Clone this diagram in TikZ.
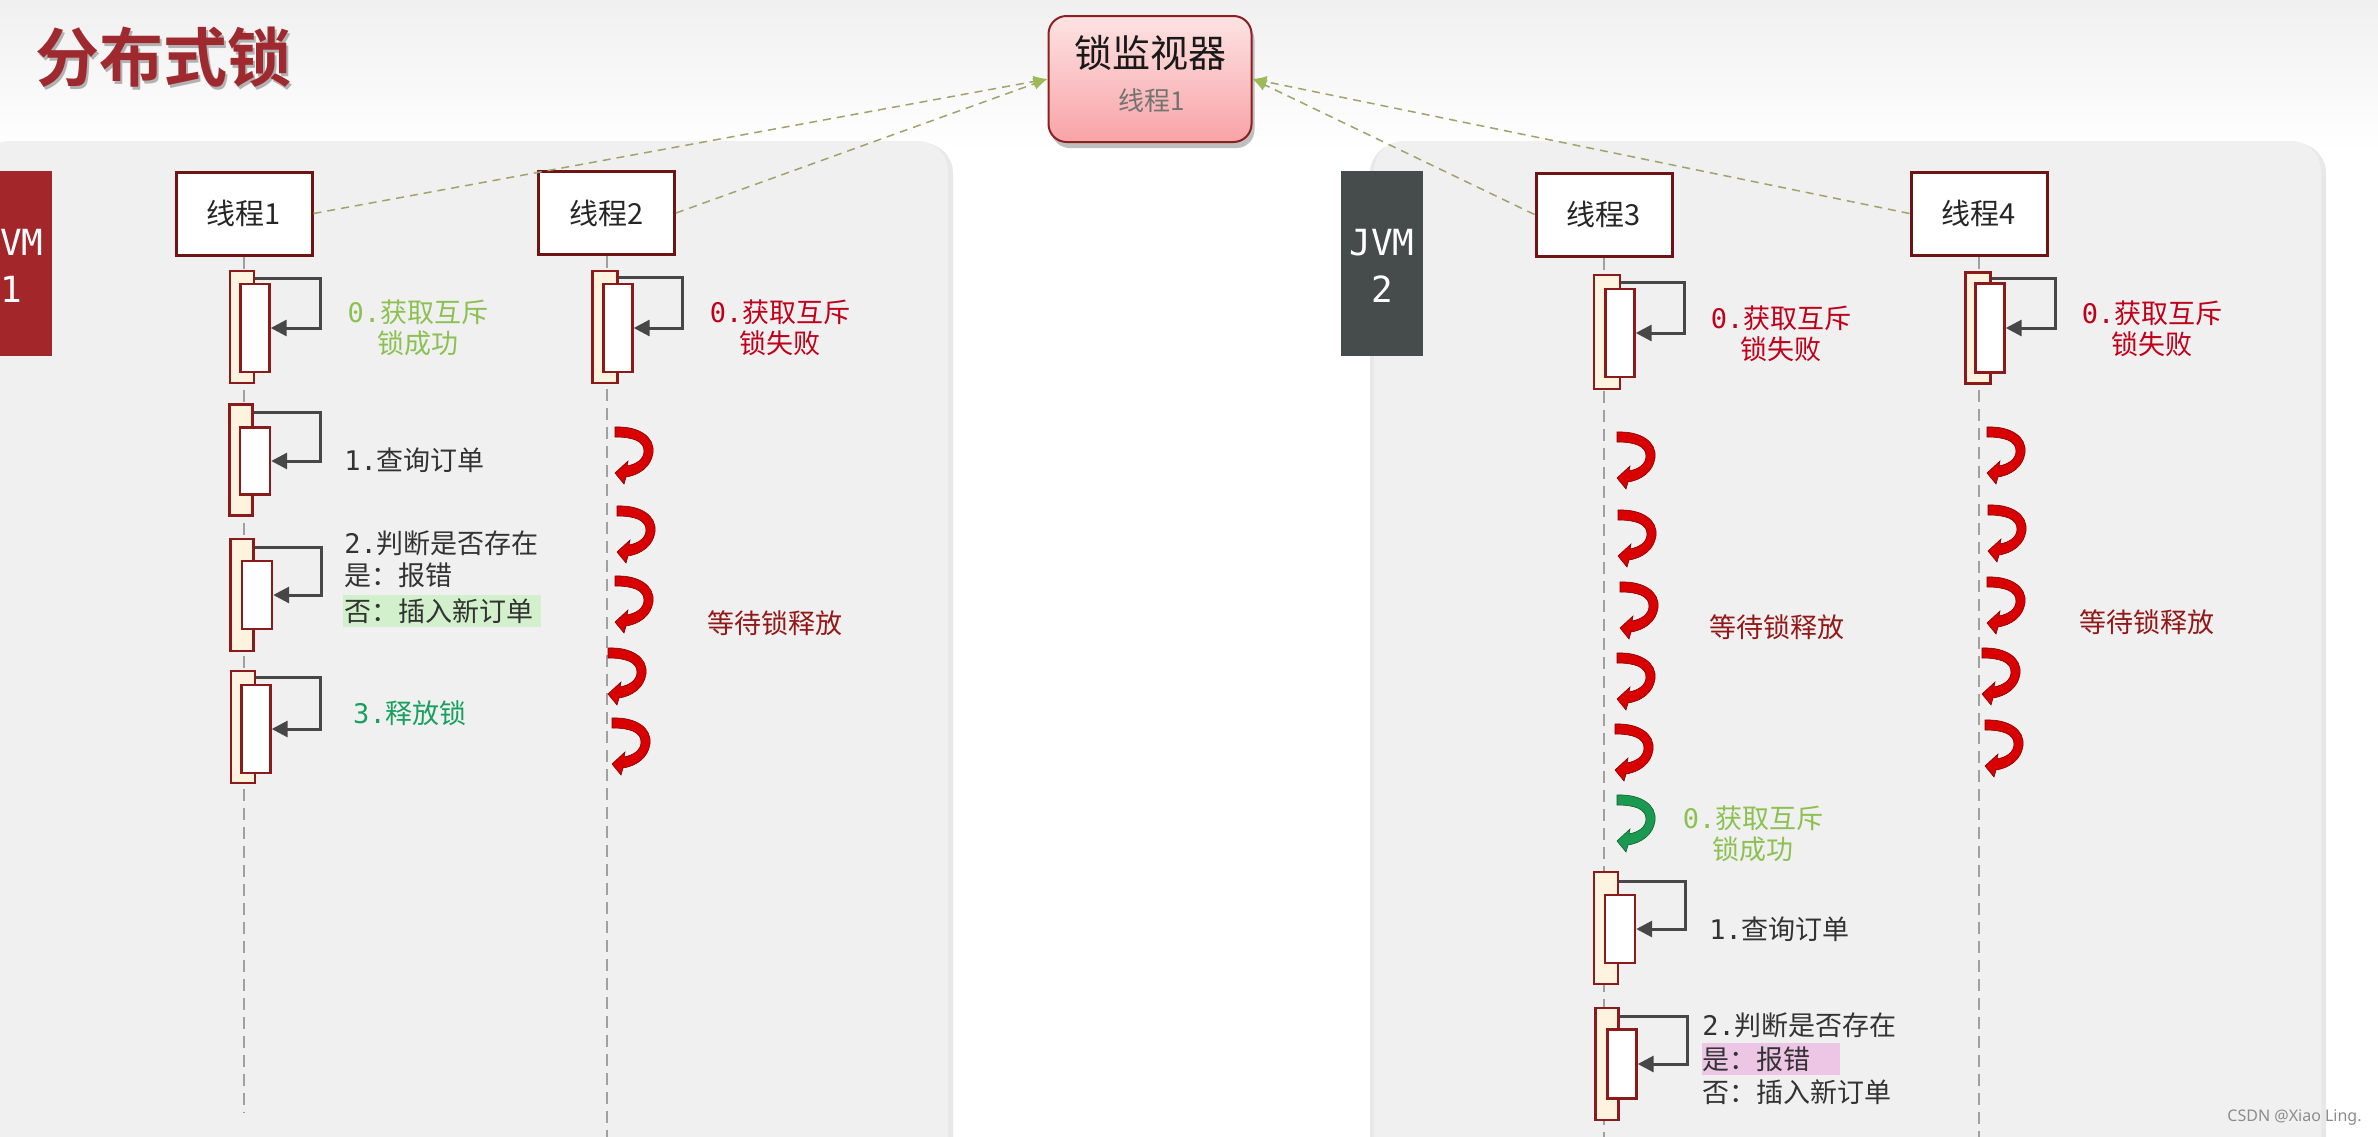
\documentclass[tikz,border=0pt]{standalone}
\usepackage{fontspec}
\setmainfont{Noto Sans CJK SC}
\newfontfamily\mono{DejaVu Sans Mono}
\newfontfamily\wmfont{Noto Sans}
\newfontfamily\titlefont{Noto Sans CJK SC Bold}
\usetikzlibrary{arrows.meta,calc}

\definecolor{panelgray}{HTML}{F0F0F0}
\definecolor{boxred}{HTML}{6E1414}
\definecolor{barred}{HTML}{8B1A1A}
\definecolor{cream}{HTML}{FDF3DF}
\definecolor{lightgreen}{HTML}{8CC152}
\definecolor{deepgreen}{HTML}{17A05D}
\definecolor{failred}{HTML}{C0001A}
\definecolor{waitred}{HTML}{931818}
\definecolor{txtgray}{HTML}{333333}
\definecolor{titlered}{HTML}{9E2A2F}
\definecolor{jvmred}{HTML}{A3262A}
\definecolor{jvmgray}{HTML}{464B4B}
\definecolor{dashol}{HTML}{A0A36A}
\definecolor{tipgreen}{HTML}{9BBB59}
\definecolor{lifegray}{HTML}{A0A0A0}
\definecolor{hlgreen}{HTML}{D3F0CC}
\definecolor{hlpink}{HTML}{EDC6E6}
\definecolor{monborder}{HTML}{8B2020}
\definecolor{montop}{HTML}{FDE3E3}
\definecolor{monbot}{HTML}{F8A3A7}
\definecolor{iconred}{HTML}{D80000}
\definecolor{icongreen}{HTML}{1A9A50}

\newcommand\mn[1]{{\mono #1}}

\tikzset{
  thread/.style={draw=boxred, line width=1.5pt, fill=white, minimum width=68pt,
    minimum height=41.5pt, inner sep=0pt, text=black!85, font=\fontsize{14.5}{16}\selectfont},
  obar/.style 2 args={draw=barred, line width=1.2pt, fill=cream, inner sep=0pt,
    minimum width=#1, minimum height=#2},
  ibar/.style 2 args={draw=barred, line width=1.2pt, fill=white, inner sep=0pt,
    minimum width=#1, minimum height=#2},
  selfarr/.style={draw=black!72, line width=1.5pt, -{Triangle[length=8pt,width=8pt]}},
  lifeline/.style={draw=lifegray, line width=1pt, dash pattern=on 6pt off 3.5pt},
  monlink/.style={draw=dashol, line width=0.75pt, dash pattern=on 4pt off 3pt,
    -{Latex[length=7pt,width=6pt,color=tipgreen]}},
  lbl/.style={inner sep=0pt, font=\fontsize{13.5}{15.5}\selectfont, align=center},
  jvmbox/.style={inner sep=0pt, minimum width=41pt, minimum height=92.5pt},
  jvmtxt/.style={inner sep=0pt, text=white, font=\mono\fontsize{18}{20}\selectfont},
  monbox/.style={draw=monborder, line width=1pt, rounded corners=9pt,
    top color=montop, bottom color=monbot, minimum width=101.5pt, minimum height=63pt},
  pics/waitarr/.style={code={
    \filldraw[fill=#1, draw=#1!60!black, line width=0.3pt]
      (0,0) .. controls (24,-1) and (40,10) .. (38,26)
      .. controls (36,40) and (24,48) .. (11,50)
      -- (9,57) -- (0,46) -- (13,34) -- (12,39)
      .. controls (22,37) and (29,32) .. (29,24)
      .. controls (29,14) and (18,10) .. (0,10) -- cycle;
  }}
}

\begin{document}
\begin{tikzpicture}[x=0.5pt,y=-0.5pt]
\useasboundingbox (0,0) rectangle (2378,1136);
\clip (0,0) rectangle (2378,1136);
\fill[white] (0,0) rectangle (2378,1136);
\shade[top color=black!6, bottom color=white] (0,0) rectangle (2378,150);

% panels
\fill[black!9, rounded corners=15pt] (-20,143) rectangle (953,1200);
\fill[panelgray, rounded corners=15pt] (-20,141) rectangle (948,1200);
\fill[black!9, rounded corners=15pt] (1370,143) rectangle (2326,1200);
\fill[panelgray, rounded corners=15pt] (1374,141) rectangle (2321,1200);

% JVM boxes
\node[jvmbox, fill=jvmred] (jvm1) at (11,263.5) {};
\node[jvmtxt] (jvm1a) at (11,243) {JVM};
\node[jvmtxt] (jvm1b) at (11,289) {1};
\node[jvmbox, fill=jvmgray] (jvm2) at (1382,263.5) {};
\node[jvmtxt] (jvm2a) at (1382,243) {JVM};
\node[jvmtxt] (jvm2b) at (1382,289) {2};

% title
\node[font=\titlefont\fontsize{32}{36}\selectfont, text=black!30] (titlesh) at (166,60) {分布式锁};
\node[font=\titlefont\fontsize{32}{36}\selectfont, text=titlered] (title) at (163,57) {分布式锁};

% threads
\node[thread] (t1) at (244,213.5) {线程1};
\node[thread] (t2) at (606.5,213) {线程2};
\node[thread] (t3) at (1604,214.5) {线程3};
\node[thread] (t4) at (1979,213.5) {线程4};

% lifelines
\coordinate (e1) at (244,1113);
\coordinate (e2) at (606,1140);
\coordinate (e3) at (1604,1140);
\coordinate (e4) at (1979,1140);
\draw[lifeline] (t1.south) -- (t1.south |- e1);
\draw[lifeline] (t2.south) -- (t2.south |- e2);
\draw[lifeline] (t3.south) -- (t3.south |- e3);
\draw[lifeline] (t4.south) -- (t4.south |- e4);

% thread 1 activations
\node[obar={12pt}{56pt}] (o1) at (242,327) {};
\node[ibar={14.5pt}{44pt}] (i1) at (255,328) {};
\draw[selfarr] ($(o1.north east)+(0,9)$) -- ++(65,0) |- (i1.east);
\node[obar={11.5pt}{55.5pt}] (o2) at (241,460) {};
\node[ibar={15pt}{33.5pt}] (i2) at (255,461) {};
\draw[selfarr] ($(o2.north east)+(0,9)$) -- ++(67,0) |- (i2.east);
\node[obar={11.5pt}{56pt}] (o3) at (242,595) {};
\node[ibar={15pt}{34pt}] (i3) at (257,595) {};
\draw[selfarr] ($(o3.north east)+(0,10)$) -- ++(67,0) |- (i3.east);
\node[obar={12pt}{56pt}] (o4) at (243,727) {};
\node[ibar={14.5pt}{44pt}] (i4) at (256,729) {};
\draw[selfarr] ($(o4.north east)+(0,8)$) -- ++(64,0) |- (i4.east);

% thread 2 activation
\node[obar={12.5pt}{56pt}] (o5) at (605,327) {};
\node[ibar={14.5pt}{44pt}] (i5) at (618,328) {};
\draw[selfarr] ($(o5.north east)+(0,8)$) -- ++(64,0) |- (i5.east);

% thread 3 activations
\node[obar={13pt}{57pt}] (o6) at (1607,332) {};
\node[ibar={14.5pt}{44pt}] (i6) at (1620,333) {};
\draw[selfarr] ($(o6.north east)+(0,9)$) -- ++(63,0) |- (i6.east);
\node[obar={12pt}{56pt}] (o7) at (1606,928) {};
\node[ibar={15pt}{34pt}] (i7) at (1620,929) {};
\draw[selfarr] ($(o7.north east)+(0,11)$) -- ++(66,0) |- (i7.east);
\node[obar={11.5pt}{56pt}] (o8) at (1607,1064) {};
\node[ibar={14.5pt}{34.5pt}] (i8) at (1622,1064) {};
\draw[selfarr] ($(o8.north east)+(0,10)$) -- ++(68,0) |- (i8.east);

% thread 4 activation
\node[obar={12.5pt}{55.5pt}] (o9) at (1978,328) {};
\node[ibar={14.5pt}{44.5pt}] (i9) at (1990,328) {};
\draw[selfarr] ($(o9.north east)+(0,7)$) -- ++(64,0) |- (i9.east);

% waiting arrows
\pic at (615,427) {waitarr=iconred};
\pic at (617,506) {waitarr=iconred};
\pic at (615,576) {waitarr=iconred};
\pic at (608,648) {waitarr=iconred};
\pic at (612,718) {waitarr=iconred};
\pic at (1617,432) {waitarr=iconred};
\pic at (1618,510) {waitarr=iconred};
\pic at (1620,582) {waitarr=iconred};
\pic at (1617,653) {waitarr=iconred};
\pic at (1615,724) {waitarr=iconred};
\pic at (1987,427) {waitarr=iconred};
\pic at (1988,505) {waitarr=iconred};
\pic at (1987,577) {waitarr=iconred};
\pic at (1982,648) {waitarr=iconred};
\pic at (1985,720) {waitarr=iconred};
\pic at (1617,795) {waitarr=icongreen};

% labels thread 1
\node[lbl, text=lightgreen] (l1a) at (418,328) {\mn{0.}获取互斥\\锁成功};
\node[lbl, text=txtgray, anchor=west] (l1b) at (344,460) {\mn{1.}查询订单};
\fill[hlgreen] (343,595) rectangle (541,627);
\node[lbl, text=txtgray, anchor=west] (l1c) at (344,543) {\mn{2.}判断是否存在};
\node[lbl, text=txtgray, anchor=west] (l1d) at (344,575) {是：报错};
\node[lbl, text=txtgray, anchor=west] (l1e) at (344,611) {否：插入新订单};
\node[lbl, text=deepgreen] (l1f) at (410,713) {\mn{3.}释放锁};

% labels thread 2
\node[lbl, text=failred] (l2a) at (780,328) {\mn{0.}获取互斥\\锁失败};
\node[lbl, text=waitred] (l2w) at (775,623) {等待锁释放};

% labels thread 3
\node[lbl, text=failred] (l3a) at (1781,334) {\mn{0.}获取互斥\\锁失败};
\node[lbl, text=waitred] (l3w) at (1777,627) {等待锁释放};
\node[lbl, text=lightgreen] (l3g) at (1753,834) {\mn{0.}获取互斥\\锁成功};
\node[lbl, text=txtgray, anchor=west] (l3b) at (1709,929) {\mn{1.}查询订单};
\fill[hlpink] (1702,1043) rectangle (1840,1075);
\node[lbl, text=txtgray, anchor=west] (l3c) at (1702,1025) {\mn{2.}判断是否存在};
\node[lbl, text=txtgray, anchor=west] (l3d) at (1702,1059) {是：报错};
\node[lbl, text=txtgray, anchor=west] (l3e) at (1702,1092) {否：插入新订单};

% labels thread 4
\node[lbl, text=failred] (l4a) at (2152,329) {\mn{0.}获取互斥\\锁失败};
\node[lbl, text=waitred] (l4w) at (2147,622) {等待锁释放};

% monitor
\node[monbox, draw=none, top color=black!25, bottom color=black!25] (monsh) at (1153,85) {};
\node[monbox] (mon) at (1150,79) {};
\node[font=\fontsize{19}{21}\selectfont, text=black!90, inner sep=0pt] (monT) at (1150,53) {锁监视器};
\node[font=\fontsize{13}{15}\selectfont, text=black!55, inner sep=0pt] (monS) at (1152,101) {线程1};

% links to monitor
\draw[monlink] (t1.east) -- (mon.west);
\draw[monlink] (t2.east) -- (mon.west);
\draw[monlink] (t3.west) -- (mon.east);
\draw[monlink] (t4.west) -- (mon.east);

% watermark
\node[anchor=east, inner sep=0pt, font=\wmfont\fontsize{8}{9}\selectfont, text=black!45] (wm) at (2362,1118) {CSDN @Xiao Ling.};
\end{tikzpicture}
\end{document}
